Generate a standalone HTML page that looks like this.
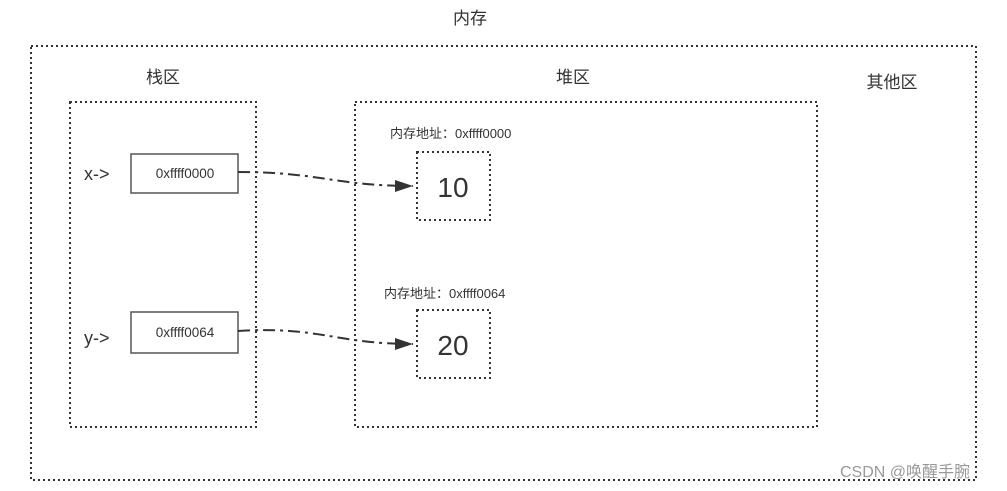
<!DOCTYPE html>
<html><head><meta charset="utf-8"><style>
html,body{margin:0;padding:0;background:#fff;}
svg{display:block;font-family:"Liberation Sans","Noto Sans CJK SC",sans-serif;}
</style></head><body>
<svg width="1007" height="491" viewBox="0 0 1007 491" xmlns="http://www.w3.org/2000/svg">
<defs>
<marker id="b" markerWidth="20" markerHeight="12" refX="18" refY="6" orient="auto" markerUnits="userSpaceOnUse"><path d="M0,0 L18,6 L0,12 Z" fill="#333"/></marker></defs>
<g fill="none" stroke="#333" stroke-width="2" stroke-dasharray="2,3">
<rect x="31" y="46" width="945" height="434"/>
<rect x="70" y="102" width="186" height="325"/>
<rect x="355" y="102" width="462" height="325"/>
<rect x="417" y="152" width="73" height="68"/>
<rect x="417" y="310" width="73" height="68"/>
</g>
<g fill="#fff" stroke="#555" stroke-width="1.5">
<rect x="131" y="154" width="107" height="39"/>
<rect x="131" y="312" width="107" height="41"/>
</g>
<g fill="none" stroke="#333" stroke-width="2" stroke-dasharray="12,5,3,5">
<path d="M238,172 C320,172 335,186 413,186" marker-end="url(#b)"/>
<path d="M238,331 C320,326 335,344 413,344" marker-end="url(#b)"/>
</g>
<g fill="#333" font-size="17" text-anchor="middle">
<text x="470" y="24">内存</text>
<text x="163" y="83">栈区</text>
<text x="573" y="83">堆区</text>
<text x="892" y="88">其他区</text>
</g>
<g fill="#333" font-size="18"><text x="84" y="180">x-&gt;</text><text x="84" y="344">y-&gt;</text></g>
<g fill="#333" font-size="13.5" text-anchor="middle"><text x="185" y="178">0xffff0000</text><text x="185" y="337">0xffff0064</text></g>
<g fill="#333" font-size="13"><text x="390" y="138">内存地址：0xffff0000</text><text x="384" y="298">内存地址：0xffff0064</text></g>
<g fill="#333" font-size="28" text-anchor="middle"><text x="453" y="197">10</text><text x="453" y="355">20</text></g>
<text x="840" y="477" font-size="16" fill="#999">CSDN @唤醒手腕</text>
</svg>
</body></html>
